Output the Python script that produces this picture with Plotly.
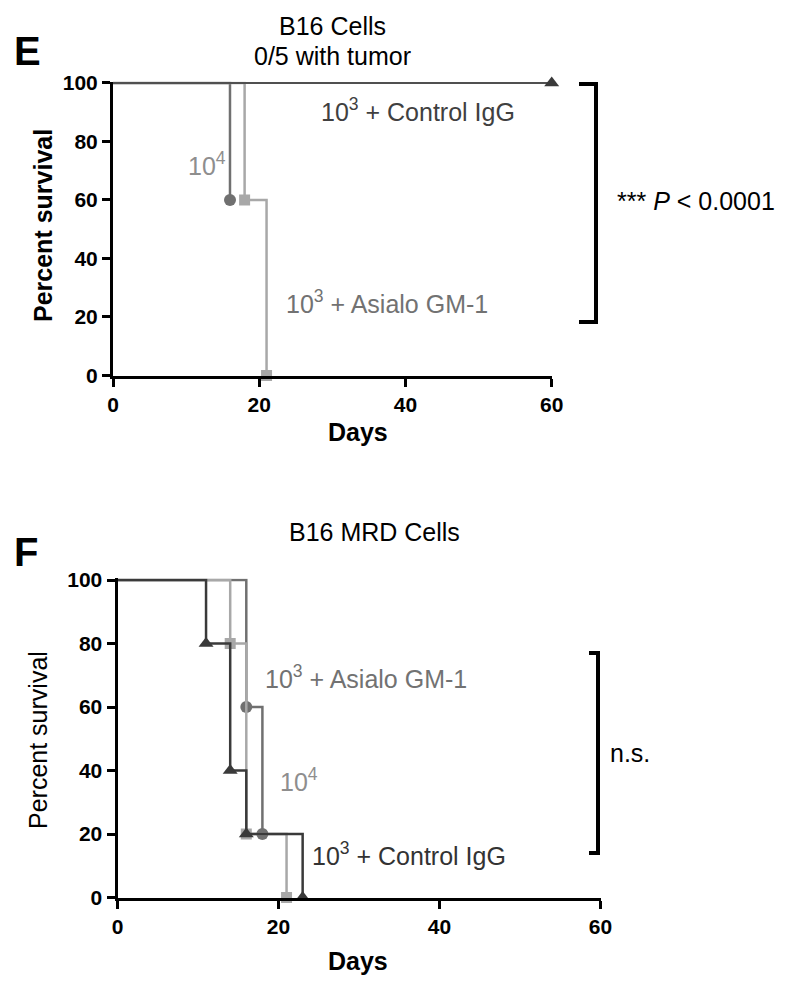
import plotly.graph_objects as go

# The page adds an 8px body margin, so the figure is drawn 8px smaller and positions are offset.
OFF = 8
W, H = 794 - OFF, 990 - OFF
FONT = "Liberation Sans, Arial, sans-serif"

# ---------------- data ----------------
# Panel E (B16 Cells)
e_igg_days = [0, 60]
e_igg_surv = [100, 100]
e_asialo_days = [0, 16]
e_asialo_surv = [100, 60]
e_1e4_days = [0, 18, 21]
e_1e4_surv = [100, 60, 0]

# Panel F (B16 MRD Cells)
f_igg_days = [0, 11, 14, 16, 23]
f_igg_surv = [100, 80, 40, 20, 0]
f_asialo_days = [0, 16, 18]
f_asialo_surv = [100, 60, 20]
f_1e4_days = [0, 14, 16, 21]
f_1e4_surv = [100, 80, 20, 0]

x_ticks = [0, 20, 40, 60]
y_ticks = [0, 20, 40, 60, 80, 100]

DARK = "#3a3a3a"
MID = "#707070"
LIGHT = "#a8a8a8"


def fx(px):
    return (px - OFF) / W


def fy(py):
    return 1 - (py - OFF) / H


def P(px, py):
    return fx(px), fy(py)


fig = go.Figure()


def add_series(days, surv, color, symbol, msize, xa, ya, lw=2.5, lcolor=None):
    fig.add_trace(go.Scatter(x=days, y=surv, mode="lines", line=dict(color=lcolor or color, width=lw, shape="hv"),
                             xaxis=xa, yaxis=ya, showlegend=False, hoverinfo="skip"))
    fig.add_trace(go.Scatter(x=days[1:], y=surv[1:], mode="markers",
                             marker=dict(color=color, symbol=symbol, size=msize, line=dict(width=0)),
                             xaxis=xa, yaxis=ya, showlegend=False, cliponaxis=False, hoverinfo="skip"))


# Panel E
add_series(e_asialo_days, e_asialo_surv, MID, "circle", 12, "x", "y")
add_series(e_1e4_days, e_1e4_surv, LIGHT, "square", 11, "x", "y")
add_series(e_igg_days, e_igg_surv, DARK, "triangle-up", 13, "x", "y", lw=2, lcolor="#505050")
# Panel F
add_series(f_asialo_days, f_asialo_surv, MID, "circle", 12, "x2", "y2")
add_series(f_1e4_days, f_1e4_surv, LIGHT, "square", 11, "x2", "y2")
add_series(f_igg_days, f_igg_surv, DARK, "triangle-up", 13, "x2", "y2")

tickfont = dict(family=FONT, size=21, color="black", weight="bold")
common = dict(ticks="outside", ticklen=8, tickwidth=3, tickcolor="black", showline=True, linewidth=3,
              linecolor="black", showgrid=False, zeroline=False, tickfont=tickfont, automargin=False)

# pixel layout (page coordinates)
e_left, e_right = 113.0, 551.7
e_bot = 375.5
e_scale = (375.5 - 83.0) / 100.0
e_top = e_bot - 100.5 * e_scale
f_left, f_right = 117.5, 600.5
f_bot = 897.5
f_scale = (897.5 - 580.0) / 100.0
f_top = f_bot - 100.5 * f_scale

fig.update_layout(
    template="none",
    width=W, height=H, margin=dict(l=0, r=0, t=0, b=0, pad=0, autoexpand=False),
    paper_bgcolor="white", plot_bgcolor="white",
    font=dict(family=FONT, color="black"),
    xaxis=dict(domain=[fx(e_left), fx(e_right)], range=[0, 60], tickvals=x_ticks, anchor="y", **common),
    yaxis=dict(domain=[fy(e_bot), fy(e_top)], range=[0, 100.5], tickvals=y_ticks, anchor="x", **common),
    xaxis2=dict(domain=[fx(f_left), fx(f_right)], range=[0, 60], tickvals=x_ticks, anchor="y2", **common),
    yaxis2=dict(domain=[fy(f_bot), fy(f_top)], range=[0, 100.5], tickvals=y_ticks, anchor="x2", **common),
)

annots = []


def txt(text, px, py, size=25, color="black", bold=False, angle=0, xanchor="center"):
    x, y = P(px, py)
    annots.append(dict(text=text, x=x, y=y, xref="paper", yref="paper", showarrow=False,
                       xanchor=xanchor, yanchor="middle", textangle=angle,
                       font=dict(family=FONT, size=size, color=color, weight="bold" if bold else "normal")))


# Panel E texts
txt("E", 27, 51, size=40, bold=True)
txt("B16 Cells", 332, 26)
txt("0/5 with tumor", 332, 56)
txt("Percent survival", 43, 226, bold=True, angle=-90)
txt("Days", 358, 432, bold=True)
txt("10<sup>3</sup> + Control IgG", 418, 110, color="#404040")
txt("10<sup>4</sup>", 207, 164, color="#8e8e8e")
txt("10<sup>3</sup> + Asialo GM-1", 387, 302, color="#727272")
txt("*** <i>P</i> &lt; 0.0001", 696, 201)

# Panel F texts
txt("F", 26, 552, size=40, bold=True)
txt("B16 MRD Cells", 374, 532)
txt("Percent survival", 38, 740, angle=-90)
txt("Days", 358, 961, bold=True)
txt("10<sup>3</sup> + Asialo GM-1", 366, 677, color="#727272")
txt("10<sup>4</sup>", 299, 780, color="#8e8e8e")
txt("10<sup>3</sup> + Control IgG", 409, 854, color="#333333")
txt("n.s.", 630, 753)

fig.update_layout(annotations=annots)

# brackets
shapes = []


def bracket(xv, xh, ytop, ybot):
    x1, y1 = P(xh, ytop)
    x2, y2 = P(xv, ytop)
    x3, y3 = P(xv, ybot)
    x4, y4 = P(xh, ybot)
    shapes.append(dict(type="path", xref="paper", yref="paper",
                       path=f"M {x1} {y1} L {x2} {y2} L {x3} {y3} L {x4} {y4}",
                       line=dict(color="black", width=4)))


bracket(596, 579, 84, 322)
bracket(598, 589, 653, 853)
fig.update_layout(shapes=shapes)

fig.write_html("out.html")
